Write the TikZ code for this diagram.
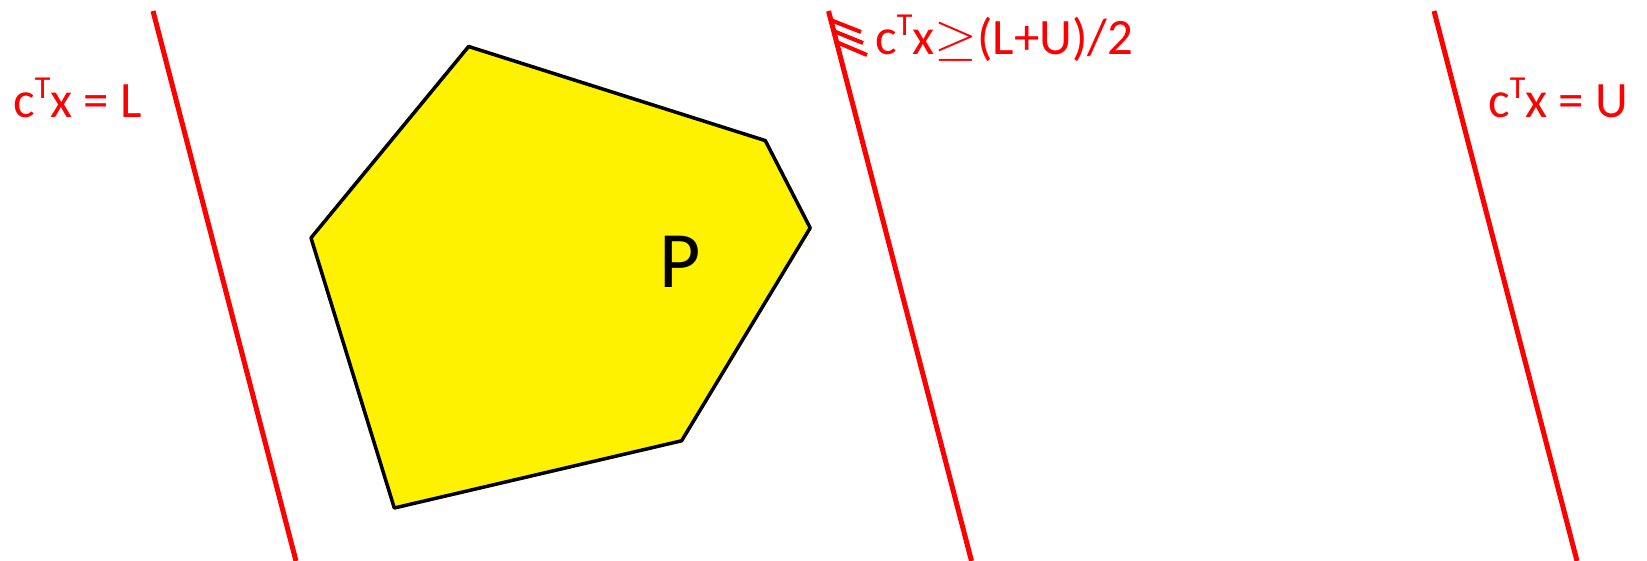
\documentclass[tikz,border=0pt]{standalone}
\usepackage{fontspec}
\usepackage{graphicx}
\setmainfont{Carlito}
\newcommand{\supT}{\raisebox{19pt}{\fontsize{32}{32}\selectfont T}}
\newcommand{\geqsym}{\scalebox{5.5}[5.05]{\fontsize{10}{12}\selectfont$\geq$}}
\begin{document}
\begin{tikzpicture}[x=1pt,y=-1pt,
  redline/.style={draw=red,line width=5pt},
  hatch/.style={draw=red,line width=4pt},
  poly/.style={draw=black,fill=yellow,line width=3.5pt,line join=round},
  lbl/.style={text=red,font=\fontsize{51}{55}\selectfont,inner sep=0pt,anchor=base west}]
\useasboundingbox (0,0) rectangle (1647,561);
% polygon
\coordinate (v1) at (468.6,46.5);
\coordinate (v2) at (765.3,140.6);
\coordinate (v3) at (810.2,227.9);
\coordinate (v4) at (681.6,440.8);
\coordinate (v5) at (394.3,508);
\coordinate (v6) at (311,237.9);
\path[poly] (v1) -- (v2) -- (v3) -- (v4) -- (v5) -- (v6) -- cycle;
\node[font=\fontsize{80}{84}\selectfont,inner sep=0pt] (P) at (680,262) {P};
% lines
\coordinate (a1) at (153,11);
\coordinate (a2) at (296,561);
\coordinate (b1) at (828.5,11);
\coordinate (b2) at (971.5,561);
\coordinate (c1) at (1434,11);
\coordinate (c2) at (1577,561);
\draw[redline] (a1) -- (a2);
\draw[redline] (b1) -- (b2);
\draw[redline] (c1) -- (c2);
% hatches
\coordinate (h1s) at (830.5,20);
\coordinate (h1e) at (861,32);
\coordinate (h2s) at (833.4,31);
\coordinate (h2e) at (863,43);
\coordinate (h3s) at (836.3,42);
\coordinate (h3e) at (867,55);
\draw[hatch] (h1s) -- (h1e);
\draw[hatch] (h2s) -- (h2e);
\draw[hatch] (h3s) -- (h3e);
% labels
\node[lbl] (lL) at (13,118) {c\supT x = L};
\node[lbl] (lM) at (875,55) {c\supT x\geqsym(L+U)/2};
\node[lbl] (lU) at (1488,118) {c\supT x = U};
\end{tikzpicture}
\end{document}
